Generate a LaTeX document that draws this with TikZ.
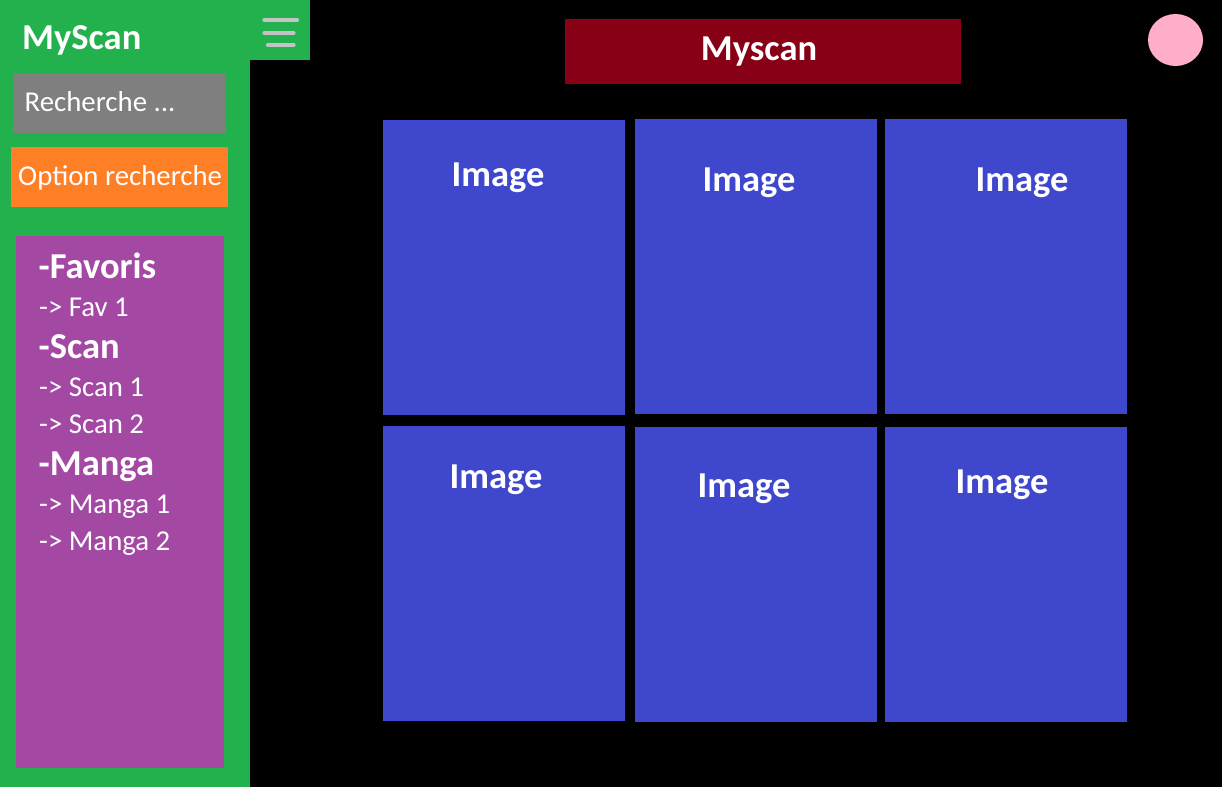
\documentclass[tikz,border=0pt]{standalone}
\usepackage{fontspec}
\setmainfont{Carlito}
\usetikzlibrary{shapes.geometric}
\definecolor{sidegreen}{HTML}{22B14C}
\definecolor{searchgray}{HTML}{7F7F7F}
\definecolor{optorange}{HTML}{FF7F27}
\definecolor{menupurple}{HTML}{A349A4}
\definecolor{titlered}{HTML}{880015}
\definecolor{avatarpink}{HTML}{FFAEC9}
\definecolor{tileblue}{HTML}{3F48CC}
\definecolor{burgergray}{HTML}{C3C3C3}

\begin{document}
\begin{tikzpicture}[x=1pt,y=-1pt,
    side text/.style={text=white,inner sep=0pt,anchor=base west,font=\fontsize{28.8}{34}\selectfont},
    side head/.style={side text,font=\bfseries\fontsize{36.5}{44}\selectfont},
    tile text/.style={text=white,inner sep=0pt,anchor=base,font=\bfseries\fontsize{36.5}{44}\selectfont},
    burger/.style={burgergray,line width=4.3pt,line cap=round}]
  \fill[black] (0,0) rectangle (1222,787);
  \useasboundingbox (0,0) rectangle (1222,787);
  % sidebar
  \fill[sidegreen] (0,0) rectangle (250,787);
  \fill[sidegreen] (250,0) rectangle (310,60);
  \fill[searchgray] (13,73) rectangle (226,133);
  \fill[optorange] (11,147) rectangle (228,207);
  \fill[menupurple] (16,236) rectangle (224,768);
  \coordinate (b1a) at (264.5,20.3); \coordinate (b1b) at (297,20.3);
  \coordinate (b2a) at (264.5,33);   \coordinate (b2b) at (293.5,33);
  \coordinate (b3a) at (268,44.8);   \coordinate (b3b) at (293.5,44.8);
  \draw[burger] (b1a) -- (b1b);
  \draw[burger] (b2a) -- (b2b);
  \draw[burger] (b3a) -- (b3b);
  \node[side text,font=\bfseries\fontsize{36.5}{44}\selectfont] (brand) at (22,49) {MyScan};
  \node[side text] (search) at (24.5,111.7) {Recherche ...};
  \node[side text] (option) at (18,185) {Option recherche};
  \node[side head] (fav)    at (38.5,278)   {-Favoris};
  \node[side text] (fav1)   at (39,316.7) {-> Fav 1};
  \node[side head] (scan)   at (38.5,358.3) {-Scan};
  \node[side text] (scan1)  at (39,396.7) {-> Scan 1};
  \node[side text] (scan2)  at (39,433.3) {-> Scan 2};
  \node[side head] (manga)  at (38.5,475)   {-Manga};
  \node[side text] (manga1) at (39,513.3) {-> Manga 1};
  \node[side text] (manga2) at (39,550)   {-> Manga 2};
  % header
  \fill[titlered] (565,19) rectangle (961,84);
  \node[tile text] (title) at (759,60) {Myscan};
  \node[ellipse,fill=avatarpink,inner sep=0pt,minimum width=55pt,minimum height=52pt] (avatar) at (1175.5,40) {};
  % image grid
  \fill[tileblue] (383,120) rectangle (625,415);
  \fill[tileblue] (635,119) rectangle (877,414);
  \fill[tileblue] (885,119) rectangle (1127,414);
  \fill[tileblue] (383,426) rectangle (625,721);
  \fill[tileblue] (635,427) rectangle (877,722);
  \fill[tileblue] (885,427) rectangle (1127,722);
  \node[tile text] (img1) at (498,186)  {Image};
  \node[tile text] (img2) at (749,191)  {Image};
  \node[tile text] (img3) at (1022,191) {Image};
  \node[tile text] (img4) at (496,488)  {Image};
  \node[tile text] (img5) at (744,497)  {Image};
  \node[tile text] (img6) at (1002,493) {Image};
\end{tikzpicture}
\end{document}
